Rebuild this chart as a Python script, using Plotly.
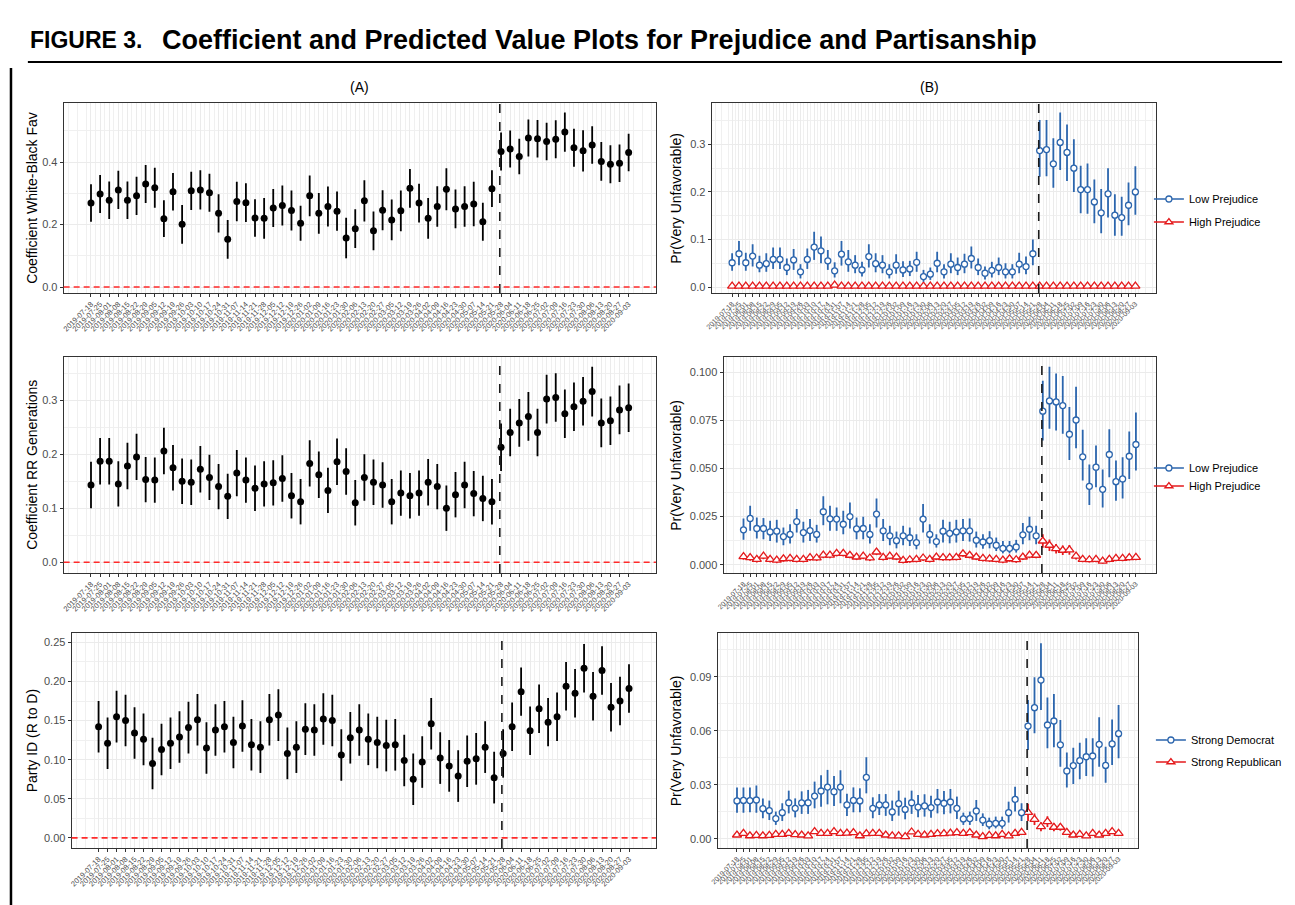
import plotly.graph_objects as go

W, H = 1295, 905

dates = ["2019-07-18","2019-07-25","2019-08-01","2019-08-08","2019-08-15","2019-08-22","2019-08-29",
         "2019-09-05","2019-09-12","2019-09-19","2019-09-26","2019-10-03","2019-10-10","2019-10-17",
         "2019-10-24","2019-10-31","2019-11-07","2019-11-14","2019-11-21","2019-11-28","2019-12-05",
         "2019-12-12","2019-12-19","2019-12-26","2020-01-02","2020-01-09","2020-01-16","2020-01-23",
         "2020-01-30","2020-02-06","2020-02-13","2020-02-20","2020-02-27","2020-03-05","2020-03-12",
         "2020-03-19","2020-03-26","2020-04-02","2020-04-09","2020-04-16","2020-04-23","2020-04-30",
         "2020-05-07","2020-05-14","2020-05-21","2020-05-28","2020-06-04","2020-06-11","2020-06-18",
         "2020-06-25","2020-07-02","2020-07-09","2020-07-16","2020-07-23","2020-07-30","2020-08-06",
         "2020-08-13","2020-08-20","2020-08-27","2020-09-03"]
event_pos = 44.86  # dashed line (late May 2020)

# ---- Panel A: coefficients ----
wb_est = [0.269,0.298,0.278,0.311,0.278,0.292,0.330,0.318,0.219,0.305,0.201,0.308,0.311,0.302,0.236,
          0.153,0.274,0.270,0.221,0.220,0.253,0.261,0.245,0.204,0.292,0.236,0.258,0.243,0.157,0.187,
          0.276,0.180,0.246,0.215,0.244,0.316,0.269,0.220,0.258,0.313,0.250,0.258,0.266,0.209,0.315,
          0.434,0.442,0.418,0.477,0.475,0.466,0.473,0.496,0.446,0.436,0.455,0.402,0.393,0.396,0.431]
wb_hw = [0.060,0.061,0.060,0.061,0.060,0.061,0.061,0.064,0.059,0.060,0.062,0.061,0.063,0.061,0.061,
         0.062,0.063,0.062,0.060,0.065,0.061,0.064,0.064,0.056,0.065,0.065,0.064,0.063,0.065,0.062,
         0.066,0.062,0.064,0.065,0.065,0.062,0.062,0.065,0.065,0.067,0.062,0.065,0.071,0.061,0.059,
         0.061,0.059,0.057,0.059,0.060,0.060,0.061,0.063,0.061,0.066,0.060,0.062,0.061,0.060,0.060]

rr_est = [0.143,0.187,0.187,0.145,0.178,0.195,0.153,0.152,0.206,0.175,0.150,0.148,0.172,0.157,0.140,
          0.122,0.165,0.152,0.137,0.145,0.147,0.155,0.123,0.112,0.183,0.162,0.133,0.186,0.168,0.110,
          0.157,0.148,0.143,0.112,0.128,0.123,0.128,0.148,0.140,0.100,0.125,0.143,0.127,0.118,0.112,
          0.213,0.240,0.258,0.270,0.240,0.302,0.305,0.275,0.288,0.298,0.316,0.258,0.262,0.282,0.286]
rr_hw = [0.043,0.043,0.043,0.042,0.043,0.043,0.042,0.042,0.043,0.042,0.042,0.042,0.043,0.042,0.042,
         0.042,0.043,0.042,0.042,0.042,0.042,0.043,0.042,0.042,0.043,0.043,0.042,0.043,0.043,0.042,
         0.043,0.042,0.042,0.042,0.042,0.042,0.042,0.043,0.042,0.042,0.042,0.043,0.042,0.042,0.042,
         0.044,0.044,0.044,0.045,0.044,0.045,0.045,0.045,0.045,0.045,0.046,0.045,0.045,0.045,0.045]

pid_est = [0.142,0.121,0.155,0.150,0.134,0.126,0.095,0.113,0.121,0.129,0.141,0.151,0.115,0.138,0.142,
           0.122,0.143,0.119,0.116,0.151,0.157,0.108,0.116,0.139,0.138,0.152,0.150,0.106,0.128,0.138,
           0.126,0.122,0.118,0.119,0.099,0.075,0.097,0.146,0.102,0.092,0.079,0.098,0.101,0.116,0.077,
           0.108,0.142,0.187,0.137,0.165,0.148,0.155,0.194,0.185,0.217,0.181,0.214,0.167,0.175,0.191]
pid_hw = [0.033]*45 + [0.031]*15

# ---- Panel B: predicted probabilities ----
b1_low = [0.051,0.070,0.051,0.065,0.046,0.049,0.058,0.058,0.041,0.057,0.032,0.058,0.084,0.076,0.055,
          0.034,0.069,0.053,0.046,0.036,0.064,0.049,0.046,0.032,0.046,0.036,0.038,0.052,0.022,0.027,
          0.050,0.032,0.048,0.041,0.048,0.060,0.041,0.029,0.035,0.041,0.032,0.032,0.048,0.043,0.070,
          0.287,0.289,0.259,0.304,0.283,0.250,0.205,0.205,0.179,0.156,0.196,0.151,0.146,0.172,0.200]
b1_low_lo = [0.034,0.046,0.034,0.043,0.031,0.032,0.038,0.038,0.025,0.036,0.018,0.038,0.057,0.050,0.036,
             0.020,0.045,0.032,0.029,0.022,0.041,0.031,0.029,0.018,0.028,0.021,0.023,0.032,0.011,0.015,
             0.031,0.018,0.029,0.025,0.029,0.039,0.025,0.016,0.020,0.025,0.018,0.018,0.029,0.027,0.046,
             0.232,0.233,0.209,0.246,0.223,0.200,0.155,0.154,0.134,0.113,0.146,0.108,0.108,0.130,0.152]
b1_low_hi = [0.071,0.097,0.072,0.090,0.066,0.071,0.083,0.083,0.060,0.080,0.048,0.081,0.116,0.106,0.078,
             0.052,0.097,0.078,0.067,0.053,0.090,0.071,0.067,0.048,0.069,0.054,0.055,0.074,0.036,0.041,
             0.074,0.048,0.071,0.062,0.070,0.085,0.060,0.043,0.053,0.062,0.050,0.048,0.072,0.064,0.100,
             0.351,0.351,0.313,0.367,0.342,0.311,0.255,0.260,0.226,0.206,0.250,0.195,0.190,0.220,0.254]
b1_high = [0.002,0.002,0.002,0.002,0.002,0.002,0.002,0.002,0.002,0.002,0.002,0.002,0.002,0.002,0.002,
           0.004,0.002,0.002,0.002,0.002,0.002,0.002,0.002,0.002,0.002,0.002,0.002,0.002,0.002,0.002,
           0.002,0.002,0.002,0.002,0.002,0.002,0.002,0.002,0.002,0.002,0.002,0.002,0.002,0.002,0.002,
           0.002,0.002,0.002,0.002,0.002,0.002,0.002,0.002,0.002,0.002,0.002,0.002,0.002,0.002,0.002]
b1_high_hw = [0.001]*60

b2_low = [0.0181,0.0240,0.0188,0.0188,0.0170,0.0174,0.0146,0.0157,0.0224,0.0167,0.0177,0.0157,0.0275,0.0238,0.0237,
          0.0210,0.0250,0.0186,0.0188,0.0157,0.0263,0.0176,0.0150,0.0125,0.0150,0.0140,0.0115,0.0237,0.0157,0.0120,
          0.0174,0.0163,0.0170,0.0176,0.0176,0.0127,0.0118,0.0125,0.0101,0.0085,0.0085,0.0092,0.0155,0.0184,0.0150,
          0.0797,0.0850,0.0845,0.0826,0.0677,0.0751,0.0560,0.0407,0.0506,0.0391,0.0572,0.0431,0.0445,0.0563,0.0624]
b2_low_lo = [0.0130,0.0176,0.0136,0.0132,0.0123,0.0115,0.0101,0.0110,0.0167,0.0115,0.0123,0.0115,0.0205,0.0176,0.0176,
             0.0158,0.0188,0.0132,0.0132,0.0110,0.0193,0.0123,0.0101,0.0085,0.0101,0.0097,0.0080,0.0167,0.0110,0.0089,
             0.0115,0.0111,0.0115,0.0123,0.0120,0.0089,0.0083,0.0085,0.0071,0.0059,0.0059,0.0063,0.0106,0.0127,0.0106,
             0.0645,0.0706,0.0697,0.0680,0.0544,0.0605,0.0437,0.0310,0.0402,0.0297,0.0454,0.0332,0.0344,0.0445,0.0489]
b2_low_hi = [0.0240,0.0306,0.0245,0.0242,0.0228,0.0233,0.0193,0.0210,0.0289,0.0223,0.0237,0.0207,0.0355,0.0306,0.0297,
             0.0280,0.0323,0.0245,0.0249,0.0210,0.0344,0.0237,0.0202,0.0172,0.0202,0.0193,0.0158,0.0315,0.0210,0.0158,
             0.0233,0.0223,0.0233,0.0237,0.0240,0.0172,0.0158,0.0174,0.0141,0.0123,0.0123,0.0129,0.0216,0.0249,0.0202,
             0.0955,0.1028,0.0993,0.0979,0.0819,0.0923,0.0701,0.0520,0.0619,0.0494,0.0703,0.0541,0.0558,0.0692,0.0790]
b2_high = [0.0042,0.0037,0.0028,0.0045,0.0028,0.0024,0.0031,0.0033,0.0028,0.0028,0.0037,0.0035,0.0050,0.0050,0.0059,
           0.0059,0.0049,0.0040,0.0045,0.0035,0.0066,0.0038,0.0045,0.0040,0.0023,0.0026,0.0028,0.0035,0.0028,0.0040,
           0.0037,0.0037,0.0038,0.0057,0.0049,0.0040,0.0033,0.0030,0.0028,0.0024,0.0031,0.0026,0.0040,0.0050,0.0049,
           0.0123,0.0101,0.0083,0.0075,0.0077,0.0045,0.0028,0.0026,0.0028,0.0019,0.0028,0.0033,0.0033,0.0037,0.0038]
b2_high_hw = [0.0016]*45 + [0.0035,0.0030,0.0025,0.0025,0.0025,0.0018,0.0015,0.0015,0.0015,0.0014,0.0015,0.0015,0.0015,0.0015,0.0015]

b3_dem = [0.0211,0.0214,0.0213,0.0216,0.0168,0.0157,0.0113,0.0146,0.0201,0.0170,0.0200,0.0201,0.0238,0.0266,0.0288,
          0.0262,0.0288,0.0189,0.0214,0.0211,0.0342,0.0170,0.0189,0.0189,0.0150,0.0196,0.0164,0.0201,0.0177,0.0183,
          0.0174,0.0205,0.0198,0.0205,0.0170,0.0111,0.0113,0.0155,0.0105,0.0083,0.0087,0.0087,0.0146,0.0220,0.0146,
          0.0626,0.0728,0.0881,0.0632,0.0654,0.0522,0.0377,0.0407,0.0434,0.0456,0.0460,0.0525,0.0408,0.0527,0.0584]
b3_dem_lo = [0.0146,0.0146,0.0148,0.0146,0.0115,0.0105,0.0078,0.0100,0.0142,0.0120,0.0139,0.0139,0.0170,0.0179,0.0192,
             0.0183,0.0198,0.0128,0.0148,0.0148,0.0253,0.0115,0.0133,0.0128,0.0100,0.0129,0.0109,0.0139,0.0120,0.0124,
             0.0118,0.0142,0.0137,0.0142,0.0111,0.0078,0.0078,0.0100,0.0072,0.0054,0.0059,0.0057,0.0091,0.0152,0.0100,
             0.0493,0.0586,0.0715,0.0503,0.0508,0.0400,0.0285,0.0305,0.0331,0.0349,0.0346,0.0401,0.0312,0.0410,0.0447]
b3_dem_hi = [0.0286,0.0286,0.0286,0.0296,0.0225,0.0213,0.0152,0.0198,0.0268,0.0225,0.0264,0.0272,0.0318,0.0353,0.0383,
             0.0349,0.0381,0.0251,0.0286,0.0281,0.0453,0.0231,0.0249,0.0249,0.0213,0.0268,0.0229,0.0268,0.0244,0.0248,
             0.0240,0.0277,0.0266,0.0277,0.0235,0.0146,0.0152,0.0216,0.0142,0.0118,0.0124,0.0124,0.0207,0.0290,0.0198,
             0.0771,0.0896,0.1085,0.0785,0.0804,0.0660,0.0479,0.0506,0.0534,0.0558,0.0558,0.0675,0.0512,0.0663,0.0743]
b3_rep = [0.0022,0.0031,0.0018,0.0020,0.0018,0.0020,0.0026,0.0026,0.0031,0.0024,0.0022,0.0017,0.0041,0.0031,0.0031,
          0.0041,0.0031,0.0033,0.0035,0.0018,0.0030,0.0031,0.0031,0.0022,0.0017,0.0017,0.0013,0.0039,0.0026,0.0022,
          0.0026,0.0030,0.0030,0.0033,0.0035,0.0031,0.0035,0.0022,0.0013,0.0020,0.0018,0.0026,0.0017,0.0031,0.0037,
          0.0148,0.0109,0.0068,0.0096,0.0065,0.0065,0.0037,0.0022,0.0026,0.0017,0.0031,0.0022,0.0031,0.0041,0.0031]
b3_rep_hw = [0.0011]*45 + [0.0048,0.0032,0.0025,0.0030,0.0022,0.0020,0.0014,0.0012,0.0012,0.0011,0.0012,0.0012,0.0012,0.0012,0.0012]

BLUE = "#2B65AD"
RED = "#E41A1C"
FONT = "Liberation Sans, Arial, Helvetica, sans-serif"

fig = go.Figure()

def pxx(x):
    return x / W

def pyy(y):
    return 1 - y / H

panels = [
    dict(k=1, l=56, r=652, t=103, b=293, yr=[-0.019, 0.589], tv=[0.0, 0.2, 0.4], tt=["0.0", "0.2", "0.4"],
         mv=[0.1, 0.3, 0.5], title="Coefficient White-Black Fav", zero=True),
    dict(k=2, l=708, r=1155, t=103, b=293, yr=[-0.0126, 0.387], tv=[0.0, 0.1, 0.2, 0.3], tt=["0.0", "0.1", "0.2", "0.3"],
         mv=[0.05, 0.15, 0.25, 0.35], title="Pr(Very Unfavorable)", zero=False),
    dict(k=3, l=56, r=652, t=357, b=573, yr=[-0.020, 0.380], tv=[0.0, 0.1, 0.2, 0.3], tt=["0.0", "0.1", "0.2", "0.3"],
         mv=[0.05, 0.15, 0.25, 0.35], title="Coefficient RR Generations", zero=True),
    dict(k=4, l=720, r=1155, t=357, b=573, yr=[-0.0043, 0.1078], tv=[0.0, 0.025, 0.05, 0.075, 0.1],
         tt=["0.000", "0.025", "0.050", "0.075", "0.100"], mv=[0.0125, 0.0375, 0.0625, 0.0875],
         title="Pr(Very Unfavorable)", zero=False),
    dict(k=5, l=64, r=652, t=633, b=848, yr=[-0.013, 0.262], tv=[0.0, 0.05, 0.1, 0.15, 0.2, 0.25],
         tt=["0.00", "0.05", "0.10", "0.15", "0.20", "0.25"], mv=[0.025, 0.075, 0.125, 0.175, 0.225],
         title="Party ID (R to D)", zero=True),
    dict(k=6, l=714, r=1137, t=633, b=848, yr=[-0.005, 0.1142], tv=[0.0, 0.03, 0.06, 0.09],
         tt=["0.00", "0.03", "0.06", "0.09"], mv=[0.015, 0.045, 0.075, 0.105],
         title="Pr(Very Unfavorable)", zero=False),
]

xs = list(range(len(dates)))
layout = {}
shapes = []
annotations = []

for p in panels:
    k = p["k"]
    xa = "xaxis" if k == 1 else f"xaxis{k}"
    ya = "yaxis" if k == 1 else f"yaxis{k}"
    xr = "x" if k == 1 else f"x{k}"
    yr = "y" if k == 1 else f"y{k}"
    layout[xa] = dict(
        domain=[pxx(p["l"]), pxx(p["r"])], anchor=yr, range=[-3.0, 62.0],
        tickmode="array", tickvals=xs, ticktext=dates, tickangle=-45,
        tickfont=dict(size=7.5 if k in (1, 3, 5) else 7, color="#4D4D4D", family=FONT),
        ticks="outside", ticklen=3, tickcolor="#333333", tickwidth=1,
        showline=True, mirror=True, linecolor="#333333", linewidth=1,
        showgrid=True, gridcolor="#EBEBEB", gridwidth=1, zeroline=False,
        minor=dict(tickmode="linear", tick0=0.5, dtick=1, showgrid=True, gridcolor="#F0F0F0", gridwidth=0.6, ticks=""),
    )
    layout[ya] = dict(
        domain=[pyy(p["b"]), pyy(p["t"])], anchor=xr, range=p["yr"],
        tickmode="array", tickvals=p["tv"], ticktext=p["tt"],
        tickfont=dict(size=11, color="#4D4D4D", family=FONT),
        ticks="outside", ticklen=3, tickcolor="#333333", tickwidth=1,
        showline=True, mirror=True, linecolor="#333333", linewidth=1,
        showgrid=True, gridcolor="#EBEBEB", gridwidth=1, zeroline=False,
        minor=dict(tickmode="array", tickvals=p["mv"], showgrid=True, gridcolor="#F0F0F0", gridwidth=0.6, ticks=""),
    )
    xt = 24 if k in (1, 3, 5) else 672
    annotations.append(dict(text=p["title"], x=pxx(xt), y=pyy((p["t"] + p["b"]) / 2), xref="paper", yref="paper",
                            textangle=-90, showarrow=False, font=dict(size=14, color="black", family=FONT),
                            xanchor="center", yanchor="middle"))
    shapes.append(dict(type="line", xref=xr, yref=f"{yr} domain", x0=event_pos, x1=event_pos, y0=0, y1=1,
                       line=dict(color="#1A1A1A", width=1.6, dash="dash"), layer="above"))
    if p["zero"]:
        shapes.append(dict(type="line", xref=f"{xr} domain", yref=yr, x0=0, x1=1, y0=0, y1=0,
                           line=dict(color="#FF2A2A", width=1.6, dash="6px,4px"), layer="above"))

def coef_trace(k, est, hw):
    xr = "x" if k == 1 else f"x{k}"
    yr = "y" if k == 1 else f"y{k}"
    return go.Scatter(x=xs, y=est, xaxis=xr, yaxis=yr, mode="markers", showlegend=False,
                      marker=dict(color="black", size=7),
                      error_y=dict(type="data", array=hw, symmetric=True, thickness=1.8, width=0, color="black"))

def prob_trace(k, est, lo, hi, color, symbol, size):
    xr = "x" if k == 1 else f"x{k}"
    yr = "y" if k == 1 else f"y{k}"
    plus = [h - e for h, e in zip(hi, est)]
    minus = [e - l for e, l in zip(est, lo)]
    return go.Scatter(x=xs, y=est, xaxis=xr, yaxis=yr, mode="markers", showlegend=False,
                      marker=dict(color="white", size=size, symbol=symbol, line=dict(color=color, width=1.3)),
                      error_y=dict(type="data", array=plus, arrayminus=minus, symmetric=False,
                                   thickness=1.8, width=0, color=color))

fig.add_trace(coef_trace(1, wb_est, wb_hw))
fig.add_trace(coef_trace(3, rr_est, rr_hw))
fig.add_trace(coef_trace(5, pid_est, pid_hw))

def sym_bounds(est, hw):
    return [e - h for e, h in zip(est, hw)], [e + h for e, h in zip(est, hw)]

lo, hi = sym_bounds(b1_high, b1_high_hw)
fig.add_trace(prob_trace(2, b1_high, lo, hi, RED, "triangle-up", 8))
fig.add_trace(prob_trace(2, b1_low, b1_low_lo, b1_low_hi, BLUE, "circle", 6))
lo, hi = sym_bounds(b2_high, b2_high_hw)
fig.add_trace(prob_trace(4, b2_high, lo, hi, RED, "triangle-up", 8))
fig.add_trace(prob_trace(4, b2_low, b2_low_lo, b2_low_hi, BLUE, "circle", 6))
lo, hi = sym_bounds(b3_rep, b3_rep_hw)
fig.add_trace(prob_trace(6, b3_rep, lo, hi, RED, "triangle-up", 8))
fig.add_trace(prob_trace(6, b3_dem, b3_dem_lo, b3_dem_hi, BLUE, "circle", 6))

legend_items = [
    ("Low Prejudice", BLUE, "circle", 199, 1148),
    ("High Prejudice", RED, "triangle-up", 222, 1148),
    ("Low Prejudice", BLUE, "circle", 468, 1148),
    ("High Prejudice", RED, "triangle-up", 486, 1148),
    ("Strong Democrat", BLUE, "circle", 740, 1150),
    ("Strong Republican", RED, "triangle-up", 762, 1150),
]
for i, (name, col, sym, ypos, xpos) in enumerate(legend_items):
    lid = "legend" if i == 0 else f"legend{i + 1}"
    fig.add_trace(go.Scatter(x=[None], y=[None], xaxis="x2", yaxis="y2", mode="lines+markers", name=name,
                             legend=lid, showlegend=True,
                             marker=dict(color="white", size=6 if sym == "circle" else 7, symbol=sym,
                                         line=dict(color=col, width=1.3)),
                             line=dict(color=col, width=1.5)))
    layout[lid] = dict(x=pxx(xpos), y=pyy(ypos), xanchor="left", yanchor="middle",
                       bgcolor="rgba(0,0,0,0)", font=dict(size=11, color="black", family=FONT),
                       itemwidth=30, tracegroupgap=0)

annotations.append(dict(text="<b>FIGURE 3.</b>", x=pxx(20), y=pyy(40), xref="paper", yref="paper",
                        showarrow=False, xanchor="left", yanchor="middle",
                        font=dict(size=23, color="black", family=FONT)))
annotations.append(dict(text="<b>Coefficient and Predicted Value Plots for Prejudice and Partisanship</b>",
                        x=pxx(153), y=pyy(40), xref="paper", yref="paper", showarrow=False,
                        xanchor="left", yanchor="middle", font=dict(size=27, color="black", family=FONT)))
annotations.append(dict(text="(A)", x=pxx(354), y=pyy(87), xref="paper", yref="paper", showarrow=False,
                        xanchor="center", yanchor="middle", font=dict(size=14, color="black", family=FONT)))
annotations.append(dict(text="(B)", x=pxx(927), y=pyy(87), xref="paper", yref="paper", showarrow=False,
                        xanchor="center", yanchor="middle", font=dict(size=14, color="black", family=FONT)))

shapes.append(dict(type="line", xref="paper", yref="paper", x0=pxx(20), x1=pxx(1282), y0=pyy(62), y1=pyy(62),
                   line=dict(color="black", width=2)))
shapes.append(dict(type="line", xref="paper", yref="paper", x0=pxx(3), x1=pxx(3), y0=pyy(68), y1=pyy(905),
                   line=dict(color="black", width=2.5)))

fig.update_layout(
    width=W, height=H, margin=dict(l=0, r=0, t=0, b=0),
    paper_bgcolor="white", plot_bgcolor="white",
    font=dict(family=FONT), shapes=shapes, annotations=annotations,
    **layout,
)

fig.write_html("out.html", config={"displayModeBar": False},
               post_script="document.body.style.margin='0px';")
